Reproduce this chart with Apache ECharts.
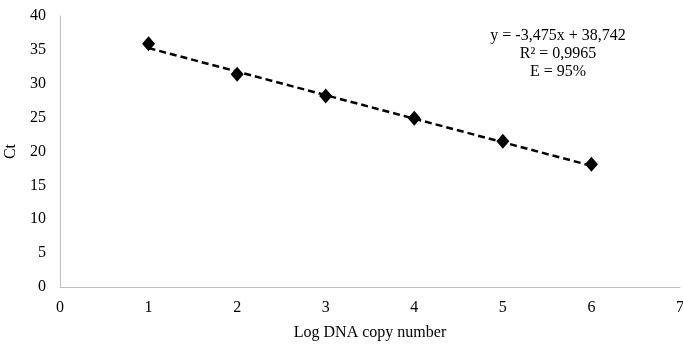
<!DOCTYPE html>
<html>
<head>
<meta charset="utf-8">
<script src="https://cdn.jsdelivr.net/npm/echarts@6/dist/echarts.min.js"></script>
<style>
html, body { margin: 0; padding: 0; background: #fff; }
#chart { width: 683px; height: 346px; }
</style>
</head>
<body>
<div id="chart"></div>
<script>
// data
var logCopies = [1, 2, 3, 4, 5, 6];
var ctValues = [35.9, 31.4, 28.2, 24.9, 21.5, 18.1];
// trend line ends (y = -3,475x + 38,742)
var trendX = [1, 6];
var trendY = [35.27, 17.89];
var annotation = ['y = -3,475x + 38,742', 'R² = 0,9965', 'E = 95%'];

var chart = echarts.init(document.getElementById('chart'));
var font = 'Liberation Serif, Times New Roman, serif';

var option = {
    animation: false,
    backgroundColor: '#fff',
    textStyle: { fontFamily: font },
    grid: { left: 60, right: 3, top: 16, bottom: 59, containLabel: false, outerBoundsMode: 'none' },
    xAxis: {
        type: 'value',
        min: 0, max: 7, interval: 1,
        name: 'Log DNA copy number',
        nameLocation: 'middle',
        nameGap: 38,
        nameTextStyle: { color: '#000', fontSize: 16, fontFamily: font },
        axisLine: { show: true, lineStyle: { color: '#bfbfbf', width: 1 } },
        axisTick: { show: false },
        splitLine: { show: false },
        axisLabel: { color: '#000', fontSize: 16, margin: 13, fontFamily: font }
    },
    yAxis: {
        type: 'value',
        min: 0, max: 40, interval: 5,
        name: 'Ct',
        nameLocation: 'middle',
        nameGap: 40,
        nameRotate: 90,
        nameTextStyle: { color: '#000', fontSize: 16, fontFamily: font },
        axisLine: { show: true, lineStyle: { color: '#bfbfbf', width: 1 } },
        axisTick: { show: false },
        splitLine: { show: false },
        axisLabel: { color: '#000', fontSize: 16, margin: 14, fontFamily: font }
    },
    series: [
        {
            type: 'line',
            data: trendX.map(function (x, i) { return [x, trendY[i]]; }),
            showSymbol: false,
            symbol: 'none',
            lineStyle: { color: '#000', width: 2.5, type: [7, 4] },
            z: 2
        },
        {
            type: 'scatter',
            data: logCopies.map(function (x, i) { return [x, ctValues[i]]; }),
            symbol: 'diamond',
            symbolSize: [13, 15],
            itemStyle: { color: '#000', opacity: 1 },
            emphasis: { disabled: true },
            z: 3
        }
    ],
    graphic: annotation.map(function (line, i) {
        return {
            type: 'text',
            x: 558,
            y: 28 + i * 18,
            style: {
                text: line,
                font: '16px ' + font,
                fill: '#000',
                align: 'center',
                textAlign: 'center'
            }
        };
    })
};
chart.setOption(option);
</script>
</body>
</html>
